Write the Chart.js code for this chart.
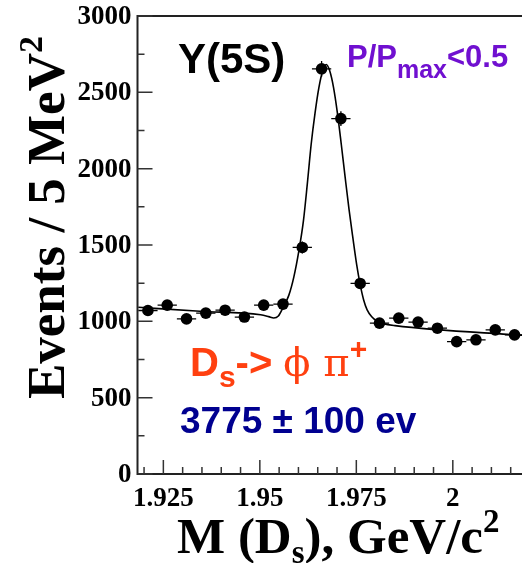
<!DOCTYPE html>
<html>
<head>
<meta charset="utf-8">
<script src="https://cdn.jsdelivr.net/npm/chart.js@4.4.0/dist/chart.umd.min.js"></script>
<style>
  html, body { margin: 0; padding: 0; background: #fff; overflow: hidden; width: 522px; height: 563px; }
  canvas { display: block; }
</style>
</head>
<body>
<canvas id="chart" width="540" height="563"></canvas>
<script>
// D_s -> phi pi+ mass spectrum, Y(5S), P/Pmax<0.5
const massBins = [1.921, 1.926, 1.931, 1.936, 1.941, 1.946, 1.951, 1.956, 1.961, 1.966,
                  1.971, 1.976, 1.981, 1.986, 1.991, 1.996, 2.001, 2.006, 2.011, 2.016];
const events = [1071, 1106, 1016, 1054, 1073, 1028, 1106, 1113, 1484, 2654,
                2328, 1248, 988, 1021, 995, 955, 867, 879, 944, 911];
const eventErrs = [33, 33, 32, 32, 33, 32, 33, 33, 39, 52,
                   48, 35, 31, 32, 32, 31, 29, 30, 31, 30];
const binHalfWidth = 0.0025;

// fit curve
const fitMass = [1.9185, 1.9345, 1.9502, 1.9523, 1.9536, 1.9548, 1.9560, 1.9575, 1.9588, 1.9601,
                 1.9613, 1.9623, 1.9633, 1.9643, 1.9653, 1.9663, 1.9672, 1.9681, 1.9691, 1.9701,
                 1.9711, 1.9721, 1.9731, 1.9741, 1.9751, 1.9760, 1.9769, 1.9778, 1.9790, 1.9803,
                 1.9820, 1.9850, 2.0166, 2.0205];
const fitEvents = [1092, 1066, 1043, 1031, 1022, 1035, 1090, 1170, 1290, 1460,
                   1660, 1900, 2160, 2364, 2531, 2641, 2682, 2641, 2531, 2364,
                   2160, 1944, 1735, 1548, 1370, 1240, 1140, 1075, 1030, 1002,
                   985, 972, 911, 905];

const xMajorTicks = [1.925, 1.95, 1.975, 2];
const xTickLabels = ['1.925', '1.95', '1.975', '2'];
const xMinorTicks = [1.92, 1.93, 1.935, 1.94, 1.945, 1.955, 1.96, 1.965, 1.97,
                     1.98, 1.985, 1.99, 1.995, 2.005, 2.01, 2.015];
const yMajorTicks = [0, 500, 1000, 1500, 2000, 2500, 3000];
const yTickLabels = ['0', '500', '1000', '1500', '2000', '2500', '3000'];
const yMinorTicks = [250, 750, 1250, 1750, 2250, 2750];

const serif = 'bold {s}px "Liberation Serif", "Times New Roman", serif';
const sans = 'bold {s}px "Liberation Sans", Arial, "DejaVu Sans", sans-serif';
const greek = '{s}px "DejaVu Serif", "Liberation Serif", serif';
const f = (tpl, s) => tpl.replace('{s}', s);

function drawRich(ctx, x, y, parts, color) {
  ctx.fillStyle = color;
  ctx.textBaseline = 'alphabetic';
  ctx.textAlign = 'left';
  let cx = x;
  parts.forEach(p => {
    ctx.font = p.font;
    ctx.fillText(p.t, cx, y + (p.dy || 0));
    cx += ctx.measureText(p.t).width;
  });
  return cx - x;
}

const framePlugin = {
  id: 'framePlugin',
  beforeDatasetsDraw(chart) {
    const ctx = chart.ctx;
    const xs = chart.scales.x, ys = chart.scales.y;
    ctx.save();
    ctx.strokeStyle = '#000';
    ctx.lineWidth = 1.3;
    massBins.forEach((m, i) => {
      const px = xs.getPixelForValue(m);
      const py = ys.getPixelForValue(events[i]);
      ctx.beginPath();
      ctx.moveTo(xs.getPixelForValue(m - binHalfWidth), py);
      ctx.lineTo(xs.getPixelForValue(m + binHalfWidth), py);
      ctx.moveTo(px, ys.getPixelForValue(events[i] - eventErrs[i]));
      ctx.lineTo(px, ys.getPixelForValue(events[i] + eventErrs[i]));
      ctx.stroke();
    });
    ctx.restore();
  },
  afterDraw(chart) {
    const ctx = chart.ctx;
    const a = chart.chartArea;
    const xs = chart.scales.x, ys = chart.scales.y;
    ctx.save();
    // frame: left, bottom, top
    ctx.strokeStyle = '#222';
    ctx.lineWidth = 2;
    ctx.beginPath();
    ctx.moveTo(a.right + 5, a.top);
    ctx.lineTo(a.left, a.top);
    ctx.lineTo(a.left, a.bottom);
    ctx.lineTo(a.right + 5, a.bottom);
    ctx.stroke();

    // inner ticks
    ctx.lineWidth = 1.5;
    ctx.strokeStyle = '#333';
    ctx.beginPath();
    yMajorTicks.forEach(v => { const p = ys.getPixelForValue(v); ctx.moveTo(a.left, p); ctx.lineTo(a.left + 15, p); });
    yMinorTicks.forEach(v => { const p = ys.getPixelForValue(v); ctx.moveTo(a.left, p); ctx.lineTo(a.left + 7, p); });
    xMajorTicks.forEach(v => { const p = xs.getPixelForValue(v); ctx.moveTo(p, a.bottom); ctx.lineTo(p, a.bottom - 14); });
    xMinorTicks.forEach(v => { const p = xs.getPixelForValue(v); ctx.moveTo(p, a.bottom); ctx.lineTo(p, a.bottom - 7); });
    ctx.stroke();

    // tick labels
    ctx.fillStyle = '#000';
    ctx.font = f(serif, 27);
    ctx.textAlign = 'right';
    ctx.textBaseline = 'middle';
    yMajorTicks.forEach((v, i) => ctx.fillText(yTickLabels[i], a.left - 6, ys.getPixelForValue(v) + 1));
    ctx.textAlign = 'center';
    ctx.textBaseline = 'alphabetic';
    xMajorTicks.forEach((v, i) => ctx.fillText(xTickLabels[i], xs.getPixelForValue(v), 506));

    // x title
    drawRich(ctx, 177, 553, [
      { t: 'M (D', font: f(serif, 51) },
      { t: 's', font: f(serif, 33), dy: 10 },
      { t: '), GeV/c', font: f(serif, 51) },
      { t: '2', font: f(serif, 33), dy: -21 }
    ], '#000');

    // y title
    ctx.save();
    ctx.translate(64, 399);
    ctx.rotate(-Math.PI / 2);
    drawRich(ctx, 0, 0, [
      { t: 'Events / 5 MeV', font: f(serif, 53) },
      { t: '2', font: f(serif, 34), dy: -22 }
    ], '#000');
    ctx.restore();

    // annotations
    drawRich(ctx, 178, 73, [{ t: 'Y(5S)', font: f(sans, 42) }], '#000');
    drawRich(ctx, 347, 67, [
      { t: 'P/P', font: f(sans, 31) },
      { t: 'max', font: f(sans, 25), dy: 11 },
      { t: '<0.5', font: f(sans, 31) }
    ], '#7010d0');
    drawRich(ctx, 190, 376, [
      { t: 'D', font: f(sans, 40) },
      { t: 's', font: f(sans, 30), dy: 11 },
      { t: '-> ', font: f(sans, 40) },
      { t: '\u03d5 \u03c0', font: f(greek, 40) },
      { t: '+', font: f(sans, 30), dy: -17 }
    ], '#ff4010');
    drawRich(ctx, 180, 433, [{ t: '3775 \u00b1 100 ev', font: f(sans, 37) }], '#000090');
    ctx.restore();
  }
};

new Chart(document.getElementById('chart'), {
  type: 'scatter',
  data: {
    datasets: [
      {
        label: 'Data',
        data: massBins.map((m, i) => ({ x: m, y: events[i] })),
        backgroundColor: '#000',
        borderWidth: 0,
        pointRadius: 5.8,
        showLine: false
      },
      {
        label: 'Fit',
        type: 'line',
        data: fitMass.map((m, i) => ({ x: m, y: fitEvents[i] })),
        borderColor: '#000',
        borderWidth: 1.6,
        pointRadius: 0,
        fill: false,
        cubicInterpolationMode: 'monotone'
      }
    ]
  },
  options: {
    responsive: false,
    animation: false,
    layout: { padding: { left: 137.5, top: 16, right: 10, bottom: 89 } },
    plugins: { legend: { display: false }, tooltip: { enabled: false } },
    scales: {
      x: { type: 'linear', min: 1.9183, max: 2.02, display: false },
      y: { min: 0, max: 3000, display: false }
    }
  },
  plugins: [framePlugin]
});
</script>
</body>
</html>
